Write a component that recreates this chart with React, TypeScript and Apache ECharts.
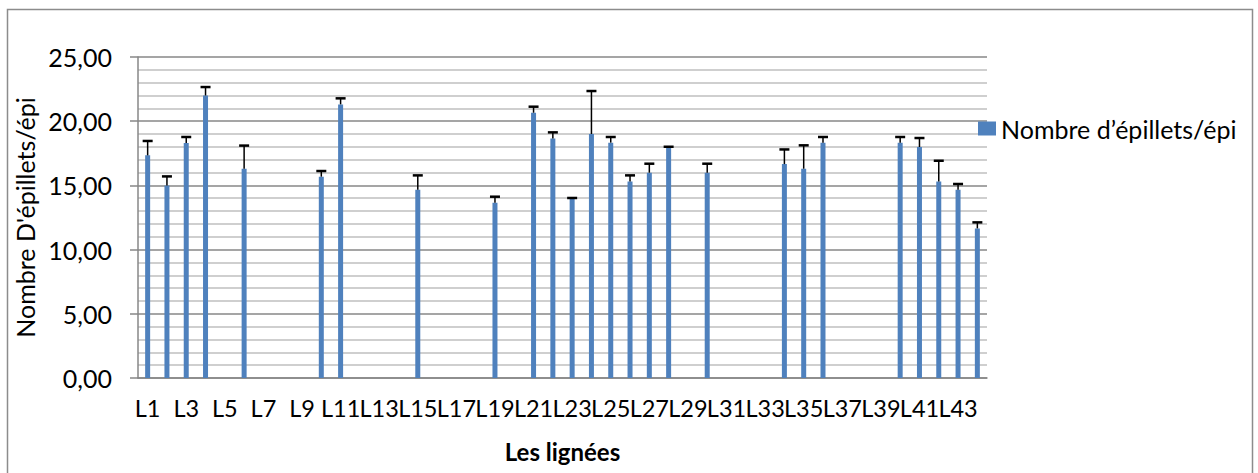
import React, { useEffect, useRef } from "react";
import * as echarts from "echarts";

const categories: string[] = Array.from({ length: 44 }, (_, i) => "L" + (i + 1));

const values: (number | null)[] = [
  17.34, 15.0, 18.3, 22.0, null, 16.3, null, null, null, 15.68,
  21.31, null, null, null, 14.67, null, null, null, 13.65, null,
  20.66, 18.66, 13.96, 19.0, 18.33, 15.31, 15.99, 17.96, null, 15.99,
  null, null, null, 16.66, 16.3, 18.33, null, null, null, 18.33,
  17.99, 15.31, 14.67, 11.65,
];

const errors: (number | null)[] = [
  1.12, 0.7, 0.47, 0.66, null, 1.8, null, null, null, 0.44,
  0.47, null, null, null, 1.11, null, null, null, 0.47, null,
  0.47, 0.47, 0.06, 3.35, 0.44, 0.47, 0.7, 0.05, null, 0.7,
  null, null, null, 1.14, 1.82, 0.44, null, null, null, 0.44,
  0.7, 1.61, 0.44, 0.47,
];

const yTicks = { min: 0, max: 25, interval: 5 };
const seriesName = "Nombre d\u2019épillets/épi";
const yName = "Nombre D'épillets/épi";
const xName = "Les lignées";

const FONT = "Lato";

export default function App() {
  const ref = useRef<HTMLDivElement>(null);
  useEffect(() => {
    document.body.style.margin = "0";
    if (!ref.current) return;
    const chart = echarts.init(ref.current, null, { renderer: "svg" });
    const errData = values
      .map((v, i) => (v == null || errors[i] == null ? null : [i, v, v + (errors[i] as number)]))
      .filter((d) => d !== null);
    chart.setOption({
      animation: false,
      textStyle: { fontFamily: FONT },
      graphic: [
        {
          type: "rect",
          shape: { x: 7.5, y: 9.5, width: 1245, height: 470 },
          style: { fill: "none", stroke: "#8c8c8c", lineWidth: 1.5 },
          silent: true,
          z: -10,
        },
      ],
      grid: { left: 138, right: 271, top: 57, bottom: 95 },
      legend: {
        data: [seriesName],
        left: 978,
        top: 116,
        padding: 0,
        itemWidth: 18,
        itemHeight: 14,
        itemGap: 4,
        icon: "rect",
        textStyle: { fontFamily: FONT, fontSize: 25, color: "#000" },
      },
      xAxis: {
        type: "category",
        data: categories,
        name: xName,
        nameLocation: "middle",
        nameGap: 61,
        nameTextStyle: { fontFamily: FONT, fontSize: 24, fontWeight: "bold", color: "#000" },
        axisLine: { lineStyle: { color: "#878787", width: 1.5 } },
        axisTick: { show: false },
        axisLabel: {
          interval: 0,
          margin: 18,
          fontSize: 23.5,
          color: "#000",
          fontFamily: FONT,
          hideOverlap: false,
          showMaxLabel: true,
          showMinLabel: true,
          formatter: (v: string, idx: number) => (idx % 2 === 0 ? v : ""),
        },
        splitLine: { show: false },
      },
      yAxis: {
        type: "value",
        min: yTicks.min,
        max: yTicks.max,
        interval: yTicks.interval,
        name: yName,
        nameLocation: "middle",
        nameGap: 99,
        nameTextStyle: { fontFamily: FONT, fontSize: 25, color: "#000" },
        axisLine: { show: true, lineStyle: { color: "#878787", width: 1.5 } },
        axisTick: { show: true, inside: false, length: 8, lineStyle: { color: "#878787", width: 1.5 } },
        axisLabel: {
          margin: 26,
          fontSize: 25,
          color: "#000",
          fontFamily: FONT,
          formatter: (v: number) => v.toFixed(2).replace(".", ","),
        },
        splitLine: { show: true, lineStyle: { color: "#878787", width: 1.5 } },
        minorTick: { show: false, splitNumber: 5 },
        minorSplitLine: { show: true, lineStyle: { color: "#bfbfbf", width: 1.5 } },
      },
      series: [
        {
          name: seriesName,
          type: "bar",
          data: values,
          barWidth: 5,
          itemStyle: { color: "#4f81bd" },
          z: 2,
        },
        {
          name: "err",
          type: "custom",
          data: errData,
          z: 3,
          renderItem: (params: any, api: any) => {
            const i = api.value(0);
            const base = api.coord([i, api.value(1)]);
            const top = api.coord([i, api.value(2)]);
            const half = 5;
            return {
              type: "group",
              children: [
                {
                  type: "line",
                  shape: { x1: base[0], y1: base[1], x2: top[0], y2: top[1] },
                  style: { stroke: "#000", lineWidth: 1.5 },
                },
                {
                  type: "line",
                  shape: { x1: top[0] - half, y1: top[1], x2: top[0] + half, y2: top[1] },
                  style: { stroke: "#000", lineWidth: 2.5 },
                },
              ],
            };
          },
        },
      ],
    });
    return () => chart.dispose();
  }, []);
  return <div ref={ref} style={{ width: 1258, height: 473 }} />;
}
